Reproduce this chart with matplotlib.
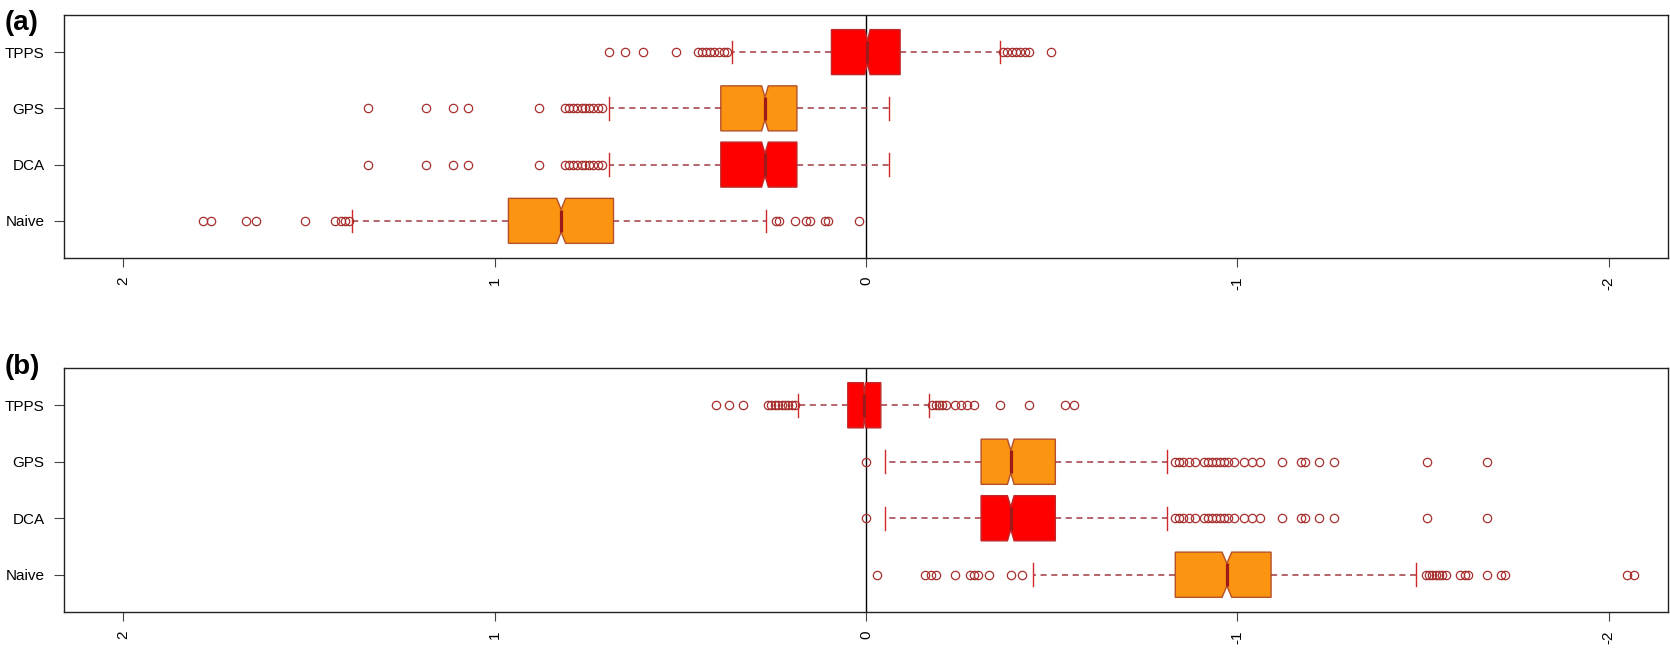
import matplotlib
matplotlib.use('Agg')
import matplotlib.pyplot as plt

plt.rcParams['font.family'] = ['Liberation Sans', 'DejaVu Sans']

groups = ['Naive', 'DCA', 'GPS', 'TPPS']
box_colors = ['#fb9410', '#fe0000', '#fb9410', '#fe0000']
edge_colors = ['#b5502a', '#c0282a', '#b5502a', '#c0282a']
xticks = [2, 1, 0, -1, -2]

# panel (a)
a_q1 = [0.680, 0.186, 0.186, -0.092]
a_med = [0.821, 0.272, 0.272, -0.004]
a_q3 = [0.963, 0.391, 0.391, 0.093]
a_whislo = [0.270, -0.061, -0.061, -0.360]
a_whishi = [1.383, 0.691, 0.691, 0.361]
a_notch = [0.012, 0.009, 0.009, 0.007]
a_fliers_naive = [1.786, 1.764, 1.671, 1.642, 1.512, 1.431, 1.414, 1.404, 1.393,
                  0.242, 0.233, 0.191, 0.162, 0.152, 0.111, 0.101, 0.020]
a_fliers_dca = [1.342, 1.184, 1.113, 1.072, 0.881, 0.810, 0.799, 0.788, 0.777,
                0.766, 0.756, 0.745, 0.734, 0.723, 0.712]
a_fliers_gps = [1.342, 1.184, 1.113, 1.072, 0.881, 0.810, 0.799, 0.788, 0.777,
                0.766, 0.756, 0.745, 0.734, 0.723, 0.712]
a_fliers_tpps = [0.691, 0.650, 0.601, 0.512, 0.452, 0.441, 0.430, 0.419, 0.408,
                 0.397, 0.382, 0.373, -0.369, -0.380, -0.392, -0.404, -0.416,
                 -0.428, -0.440, -0.499]

# panel (b)
b_q1 = [-1.091, -0.510, -0.510, -0.040]
b_med = [-0.972, -0.390, -0.390, 0.004]
b_q3 = [-0.833, -0.310, -0.310, 0.049]
b_whislo = [-1.480, -0.812, -0.812, -0.171]
b_whishi = [-0.450, -0.050, -0.050, 0.182]
b_notch = [0.013, 0.009, 0.009, 0.003]
b_fliers_naive = [-0.030, -0.160, -0.175, -0.189, -0.241, -0.280, -0.290, -0.301,
                  -0.331, -0.390, -0.420, -1.507, -1.516, -1.525, -1.534, -1.543,
                  -1.552, -1.561, -1.601, -1.612, -1.622, -1.673, -1.709, -1.721,
                  -2.050, -2.069]
b_fliers_dca = [0.0, -0.833, -0.843, -0.854, -0.869, -0.887, -0.911, -0.921, -0.932,
                -0.942, -0.953, -0.963, -0.974, -0.992, -1.018, -1.040, -1.061,
                -1.120, -1.171, -1.182, -1.220, -1.261, -1.510, -1.673]
b_fliers_gps = [0.0, -0.833, -0.843, -0.854, -0.869, -0.887, -0.911, -0.921, -0.932,
                -0.942, -0.953, -0.963, -0.974, -0.992, -1.018, -1.040, -1.061,
                -1.120, -1.171, -1.182, -1.220, -1.261, -1.510, -1.673]
b_fliers_tpps = [0.403, 0.369, 0.332, 0.264, 0.255, 0.246, 0.236, 0.227, 0.218,
                 0.209, 0.199, 0.191, -0.179, -0.189, -0.197, -0.206, -0.216,
                 -0.239, -0.256, -0.271, -0.290, -0.360, -0.438, -0.535, -0.559]


def make_stats(q1, med, q3, whislo, whishi, notch, fliers):
    stats = []
    for i in range(len(groups)):
        stats.append({'label': groups[i], 'q1': q1[i], 'med': med[i], 'q3': q3[i],
                      'whislo': whislo[i], 'whishi': whishi[i],
                      'cilo': med[i] - notch[i], 'cihi': med[i] + notch[i],
                      'fliers': fliers[i]})
    return stats


def draw_panel(ax, stats):
    res = ax.bxp(stats, orientation='horizontal', shownotches=True, patch_artist=True,
                 widths=0.8,
                 whiskerprops=dict(color='#a23a44', linestyle=(0, (4, 3)), linewidth=1.1),
                 capprops=dict(color='#d02828', linewidth=1.0),
                 medianprops=dict(color='#9e1a1a', linewidth=2.3, solid_capstyle='butt'),
                 flierprops=dict(marker='o', markerfacecolor='none', markeredgecolor='#a8302f',
                                 markersize=6, markeredgewidth=0.9, linestyle='none'))
    for patch, fc, ec in zip(res['boxes'], box_colors, edge_colors):
        patch.set_facecolor(fc)
        patch.set_edgecolor(ec)
        patch.set_linewidth(1.0)
    ax.axvline(0, color='black', linewidth=1.0, zorder=0)
    ax.set_xlim(2.16, -2.16)
    ax.set_ylim(0.34, 4.66)
    ax.set_xticks(xticks)
    ax.set_xticklabels([str(t) for t in xticks], rotation=90, fontsize=11)
    ax.set_yticks(range(1, len(groups) + 1))
    ax.set_yticklabels(groups, fontsize=11)
    ax.tick_params(axis='x', length=6.5, width=0.8, color='#444444', pad=6.5)
    ax.tick_params(axis='y', length=7, width=0.8, color='#444444', pad=7)
    for s in ax.spines.values():
        s.set_linewidth(1.0)
        s.set_color('#222222')


fig = plt.figure(figsize=(16.70, 6.49), dpi=100)
ax1 = fig.add_axes([0.0383, 0.6025, 0.9605, 0.3744])
ax2 = fig.add_axes([0.0383, 0.0570, 0.9605, 0.3760])

draw_panel(ax1, make_stats(a_q1, a_med, a_q3, a_whislo, a_whishi, a_notch,
                           [a_fliers_naive, a_fliers_dca, a_fliers_gps, a_fliers_tpps]))
draw_panel(ax2, make_stats(b_q1, b_med, b_q3, b_whislo, b_whishi, b_notch,
                           [b_fliers_naive, b_fliers_dca, b_fliers_gps, b_fliers_tpps]))

fig.text(0.003, 1 - 22.5 / 649, '(a)', fontsize=20, fontweight='bold', ha='left', va='center')
fig.text(0.003, 1 - 366.5 / 649, '(b)', fontsize=20, fontweight='bold', ha='left', va='center')

fig.savefig('out.png', dpi=100)
